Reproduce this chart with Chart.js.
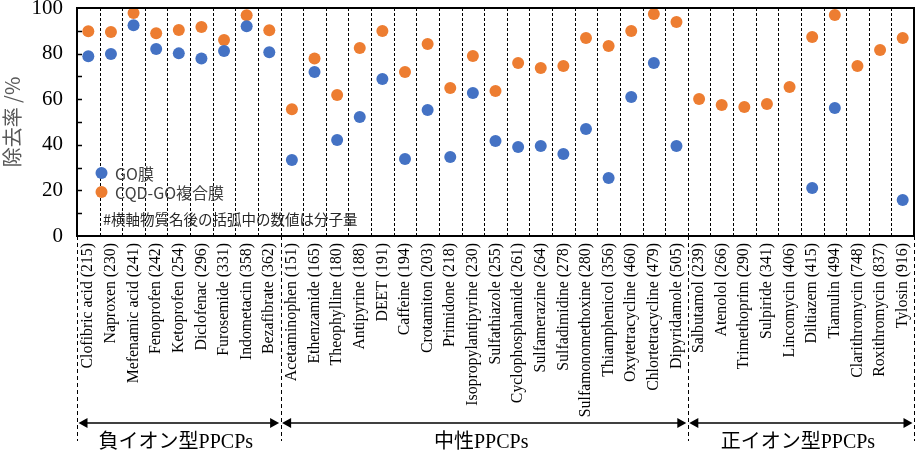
<!DOCTYPE html>
<html>
<head>
<meta charset="utf-8">
<script src="https://cdn.jsdelivr.net/npm/chart.js@4/dist/chart.umd.min.js"></script>
<style>
html,body{margin:0;padding:0;background:#fff;}
#wrap{width:920px;height:455px;}
</style>
</head>
<body>
<div id="wrap"><canvas id="c" width="920" height="455"></canvas></div>
<script>
const categories = [
  'Clofibric acid (215)','Naproxen (230)','Mefenamic acid (241)','Fenoprofen (242)','Ketoprofen (254)',
  'Diclofenac (296)','Furosemide (331)','Indometacin (358)','Bezafibrate (362)',
  'Acetaminophen (151)','Ethenzamide (165)','Theophylline (180)','Antipyrine (188)','DEET (191)',
  'Caffeine (194)','Crotamiton (203)','Primidone (218)','Isopropylantipyrine (230)','Sulfathiazole (255)',
  'Cyclophosphamide (261)','Sulfamerazine (264)','Sulfadimidine (278)','Sulfamonomethoxine (280)',
  'Thiamphenicol (356)','Oxytetracycline (460)','Chlortetracycline (479)','Dipyridamole (505)',
  'Salbutamol (239)','Atenolol (266)','Trimethoprim (290)','Sulpiride (341)','Lincomycin (406)',
  'Diltiazem (415)','Tiamulin (494)','Clarithromycin (748)','Roxithromycin (837)','Tylosin (916)'
];
const goValues = [
  78.8, 79.8, 92.4, 82.0, 80.1, 77.9, 81.1, 92.0, 80.6,
  33.3, 71.9, 42.1, 52.2, 68.9, 33.8, 55.3, 34.6, 62.7, 41.7, 39.0, 39.5, 36.0, 46.9, 25.4, 61.0, 75.9, 39.5,
  null, null, null, null, null, 21.1, 56.1, null, null, 15.8
];
const cqdValues = [
  89.8, 89.5, 97.8, 88.9, 90.4, 91.7, 86.0, 96.8, 90.2,
  55.6, 77.9, 61.8, 82.5, 89.9, 71.9, 84.2, 64.9, 78.9, 63.6, 75.9, 73.7, 74.6, 86.8, 83.3, 89.9, 97.4, 93.9,
  60.1, 57.5, 56.6, 57.9, 65.4, 87.3, 96.9, 74.6, 81.6, 86.8
];
const seriesNames = ['GO膜', 'CQD-GO複合膜'];
const groupNames = ['負イオン型PPCPs', '中性PPCPs', '正イオン型PPCPs'];
const groupSizes = [9, 18, 10];
const yTicks = [0, 20, 40, 60, 80, 100];
const noteText = '#横軸物質名後の括弧中の数値は分子量';

const BLUE = '#4472C4', ORANGE = '#ED7D31';

function boundaryX(xs, idx) {
  const n = categories.length;
  const w = (xs.right - xs.left) / n;
  return xs.left + idx * w;
}

const decor = {
  id: 'decor',
  beforeDatasetsDraw(chart) {
    const ctx = chart.ctx, ca = chart.chartArea, xs = chart.scales.x, ys = chart.scales.y;
    ctx.save();
    ctx.strokeStyle = '#000';
    ctx.lineWidth = 1;
    ctx.setLineDash([3, 2]);
    for (let i = 1; i < categories.length; i++) {
      const x = Math.round(boundaryX(xs, i)) + 0.5;
      ctx.beginPath(); ctx.moveTo(x, ca.top); ctx.lineTo(x, ca.bottom); ctx.stroke();
    }
    ctx.setLineDash([]);
    ctx.lineWidth = 1.5;
    for (let v = 10; v < 100; v += 10) {
      const y = Math.round(ys.getPixelForValue(v)) + 0.5;
      ctx.beginPath(); ctx.moveTo(ca.left, y); ctx.lineTo(ca.left + 5, y); ctx.stroke();
    }
    ctx.restore();
  },
  afterDraw(chart) {
    const ctx = chart.ctx, ca = chart.chartArea, xs = chart.scales.x;
    ctx.save();
    ctx.strokeStyle = '#000';
    ctx.lineWidth = 2;
    ctx.strokeRect(ca.left, ca.top, ca.right - ca.left, ca.bottom - ca.top);

    const legX = 101.5;
    const rows = [[173, BLUE, seriesNames[0]], [192, ORANGE, seriesNames[1]]];
    ctx.font = '16px "Noto Sans CJK JP", "Noto Sans", sans-serif';
    ctx.textBaseline = 'middle';
    ctx.textAlign = 'left';
    rows.forEach(r => {
      ctx.fillStyle = r[1];
      ctx.beginPath(); ctx.arc(legX, r[0], 6, 0, Math.PI * 2); ctx.fill();
      ctx.fillStyle = '#404040';
      ctx.fillText(r[2], 115, r[0] + 1);
    });
    ctx.font = '14.5px "Noto Sans CJK JP", "Noto Sans", sans-serif';
    ctx.fillStyle = '#262626';
    ctx.fillText(noteText, 103, 219);

    let start = 0;
    const bounds = [0];
    groupSizes.forEach(s => { start += s; bounds.push(start); });
    ctx.strokeStyle = '#000';
    ctx.lineWidth = 1;
    ctx.setLineDash([4, 3]);
    bounds.forEach(b => {
      let x = boundaryX(xs, b);
      x = Math.round(x) + 0.5;
      ctx.beginPath(); ctx.moveTo(x, ca.bottom); ctx.lineTo(x, 441); ctx.stroke();
    });
    ctx.setLineDash([]);
    const ay = 423;
    for (let g = 0; g < groupNames.length; g++) {
      const x1 = boundaryX(xs, bounds[g]) + 1.5;
      const x2 = boundaryX(xs, bounds[g + 1]) - 1.5;
      ctx.lineWidth = 1.5;
      ctx.beginPath(); ctx.moveTo(x1 + 6, ay); ctx.lineTo(x2 - 6, ay); ctx.stroke();
      ctx.fillStyle = '#000';
      ctx.beginPath(); ctx.moveTo(x1, ay); ctx.lineTo(x1 + 9, ay - 5); ctx.lineTo(x1 + 9, ay + 5); ctx.closePath(); ctx.fill();
      ctx.beginPath(); ctx.moveTo(x2, ay); ctx.lineTo(x2 - 9, ay - 5); ctx.lineTo(x2 - 9, ay + 5); ctx.closePath(); ctx.fill();
      ctx.font = '20px "Liberation Serif", "Noto Sans CJK JP", serif';
      ctx.textAlign = 'center';
      ctx.textBaseline = 'middle';
      ctx.fillStyle = '#000';
      ctx.fillText(groupNames[g], (x1 + x2) / 2 - 3, 443);
    }
    ctx.restore();
  }
};

new Chart(document.getElementById('c'), {
  type: 'line',
  data: {
    labels: categories,
    datasets: [
      { label: seriesNames[0], data: goValues, showLine: false, pointRadius: 6, pointHoverRadius: 6,
        backgroundColor: BLUE, borderColor: BLUE, pointBorderWidth: 0 },
      { label: seriesNames[1], data: cqdValues, showLine: false, pointRadius: 6, pointHoverRadius: 6,
        backgroundColor: ORANGE, borderColor: ORANGE, pointBorderWidth: 0 }
    ]
  },
  options: {
    responsive: false,
    devicePixelRatio: 1,
    animation: false,
    layout: { padding: { left: 0, right: 3, top: 8, bottom: 0 } },
    plugins: { legend: { display: false }, tooltip: { enabled: false } },
    scales: {
      x: {
        type: 'category',
        offset: true,
        grid: { display: false, drawTicks: false },
        border: { display: false },
        ticks: {
          autoSkip: false, minRotation: 90, maxRotation: 90, padding: 7,
          color: '#000', font: { family: '"Liberation Serif", serif', size: 15.8 }
        },
        afterFit(s) { s.height = 219; s.paddingLeft = 0; s.paddingRight = 0; }
      },
      y: {
        min: 0, max: 100,
        grid: { display: false, drawTicks: false },
        border: { display: false },
        afterBuildTicks(s) { s.ticks = yTicks.map(v => ({ value: v })); },
        ticks: { padding: 14, color: '#000', font: { family: '"Liberation Serif", serif', size: 21 } },
        title: { display: true, text: '除去率 /%', color: '#595959',
                 font: { family: '"Noto Sans CJK JP", sans-serif', size: 20 }, padding: { top: 0, bottom: 0 } },
        afterFit(s) { s.width = 77; s.paddingTop = 0; s.paddingBottom = 0; }
      }
    }
  },
  plugins: [decor]
});
</script>
</body>
</html>
